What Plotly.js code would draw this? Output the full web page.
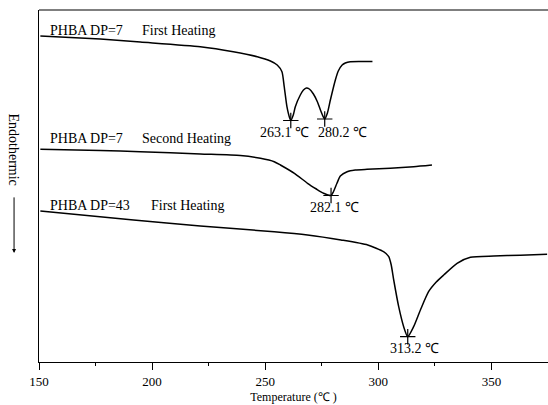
<!DOCTYPE html>
<html>
<head>
<meta charset="utf-8">
<script src="https://cdn.plot.ly/plotly-3.0.1.min.js"></script>
<style>html,body{margin:0;padding:0;background:#fff;}#chart{width:548px;height:405px;}</style>
</head>
<body>
<div id="chart"></div>
<script>
// DSC traces, heat flow in arbitrary units (endothermic downward)
const dp7FirstT = [150.6,177.1,194.8,221.3,235.9,246.5,252.3,255.3,257.4,258.4,259.6,260.8,261.3,262.4,263.3,265.5,266.9,268.2,269.5,271.3,273.1,274.4,275.7,276.3,277.5,278.8,281.0,282.3,284.0,285.4,287.6,292.1,297.4];
const dp7FirstH = [326,323,320,315.3,310.3,305.3,301,297,290.3,275.3,255.3,244,241.5,247,255.3,267,272,274,273,268,260,252,245,243,249,262,282,291,297,299,300.3,300.5,300.5];

const dp7SecondT = [150.6,177.1,194.8,221.3,239.0,247.9,254.0,256.7,262.9,268.7,272.6,275.8,279.1,280.1,281.7,283.2,286.2,289.8,295.0,305.3,315.6,323.7];
const dp7SecondH = [212.7,211.5,210.3,208,206.5,203.7,200.3,197,188.7,178.7,173,168.7,166.5,170,178.7,186,190.3,192,192.7,193.7,195.3,197];

const dp43FirstT = [150.6,191.8,221.3,254.0,268.7,283.5,295.3,302.3,304.6,305.7,306.8,309.0,311.2,313.0,315.6,318.6,322.2,325.6,328.9,334.8,340.7,351.0,362.8,374.6];
const dp43FirstH = [151,142,136,130.3,127,122,117,110.3,105.3,97,82,55.3,35.3,25.3,35.3,52,70.3,80,87,98.7,104.7,106,106.8,107.7];

// peak markers
const peakT = [261.3, 276.3, 279.1, 313.0];
const peakH = [241.5, 243, 166.5, 25.3];
const peakLabels = ["263.1 ℃", "280.2 ℃", "282.1 ℃", "313.2 ℃"];
const peakLabelT = [258.4, 284.3, 280.5, 316.0];
const peakLabelH = [230, 230, 155, 14];

const curveNames = ["PHBA DP=7", "PHBA DP=7", "PHBA DP=43"];
const curveModes = ["First Heating", "Second Heating", "First Heating"];
const nameT = [154.0, 154.0, 154.0];
const modeT = [194.6, 194.6, 198.5];
const nameH = [332, 224, 157];

const xTicks = [150, 200, 250, 300, 350];

const serif = "Liberation Serif, Times New Roman, serif";
const lineStyle = {color: "#000", width: 1.5, shape: "spline", smoothing: 0.6};

const traces = [
  {x: dp7FirstT, y: dp7FirstH, mode: "lines", line: lineStyle, hoverinfo: "skip"},
  {x: dp7SecondT, y: dp7SecondH, mode: "lines", line: lineStyle, hoverinfo: "skip"},
  {x: dp43FirstT, y: dp43FirstH, mode: "lines", line: lineStyle, hoverinfo: "skip"},
  {x: peakT, y: peakH, mode: "markers", marker: {symbol: "cross-thin", size: 11, line: {color: "#000", width: 1.2}}, hoverinfo: "skip"}
];

const annotations = [];
for (let i = 0; i < peakLabels.length; i++) {
  annotations.push({x: peakLabelT[i], y: peakLabelH[i], text: peakLabels[i], showarrow: false,
    xanchor: "center", yanchor: "middle", font: {family: serif, size: 14, color: "#000"}});
}
for (let i = 0; i < curveNames.length; i++) {
  annotations.push({x: nameT[i], y: nameH[i], text: curveNames[i], showarrow: false,
    xanchor: "left", yanchor: "middle", font: {family: serif, size: 14, color: "#000"}});
  annotations.push({x: modeT[i], y: nameH[i], text: curveModes[i], showarrow: false,
    xanchor: "left", yanchor: "middle", font: {family: serif, size: 14, color: "#000"}});
}
annotations.push({xref: "paper", yref: "paper", x: -0.050, y: 0.605, text: "Endothermic", textangle: 90,
  showarrow: false, xanchor: "center", yanchor: "middle", font: {family: serif, size: 14, color: "#000"}});
annotations.push({xref: "paper", yref: "paper", x: -0.049, y: 0.31, text: "", showarrow: true,
  ax: 0, ay: -57, arrowhead: 2, arrowsize: 0.8, arrowwidth: 1, arrowcolor: "#000"});

const layout = {
  width: 548, height: 405,
  margin: {l: 39, r: 0, t: 10, b: 43},
  paper_bgcolor: "#fff", plot_bgcolor: "#fff",
  showlegend: false,
  xaxis: {
    range: [150, 375], tickvals: xTicks, ticks: "outside", ticklen: 7, tickwidth: 1, tickcolor: "#000",
    minor: {dtick: 25, ticks: "outside", ticklen: 3, tickcolor: "#000"},
    showline: true, linecolor: "#000", linewidth: 1.2, showgrid: false, zeroline: false,
    tickfont: {family: serif, size: 13, color: "#000"},
    title: {text: "Temperature (℃ )", font: {family: serif, size: 12, color: "#000"}, standoff: 4}
  },
  yaxis: {
    range: [0, 352], showline: true, linecolor: "#000", linewidth: 1.2, showgrid: false, zeroline: false,
    showticklabels: false, ticks: ""
  },
  shapes: [{type: "line", xref: "paper", yref: "paper", x0: 0, x1: 1, y0: 1, y1: 1, line: {color: "#000", width: 1.2}}],
  annotations: annotations
};

Plotly.newPlot("chart", traces, layout, {displayModeBar: false, staticPlot: true});
</script>
</body>
</html>
